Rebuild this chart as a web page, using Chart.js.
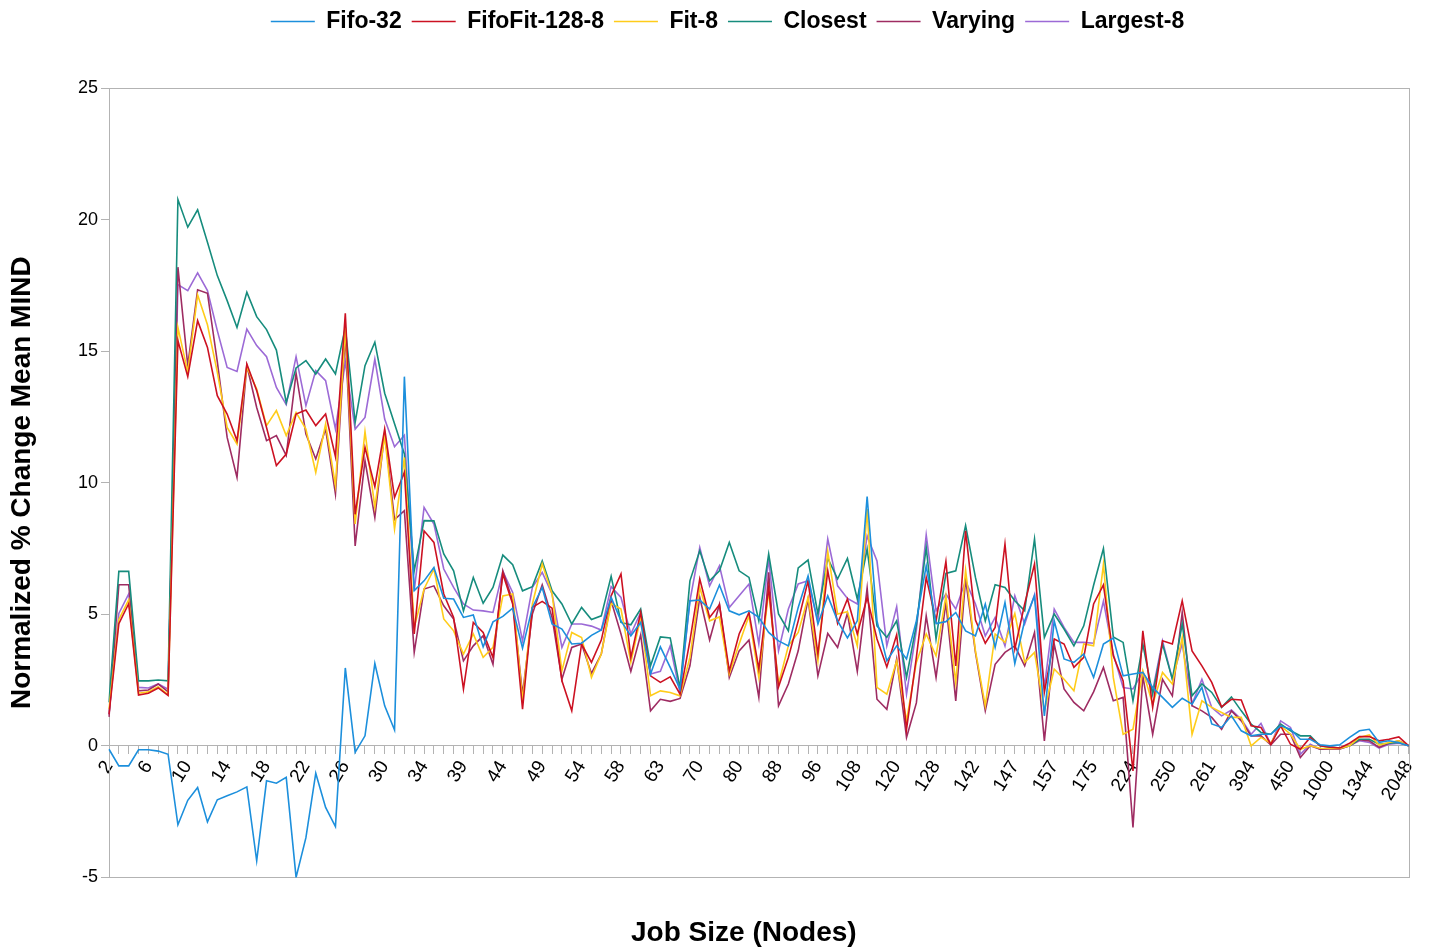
<!DOCTYPE html>
<html>
<head>
<meta charset="utf-8">
<script src="https://cdn.jsdelivr.net/npm/chart.js@4.4.1/dist/chart.umd.min.js"></script>
<style>
html,body{margin:0;padding:0;background:#fff;}
#c{display:block;}
</style>
</head>
<body>
<canvas id="c" width="1431" height="952"></canvas>
<script>
const categories = ["2","3","4","5","6","7","8","9","10","11","12","13","14","15","16","17","18","19","20","21","22","23","24","25","26","27","28","29","30","31","32","33","34","35","36","38","39","40","42","43","44","45","46","48","49","50","51","52","54","55","56","57","58","60","61","62","63","64","66","68","70","72","75","78","80","82","84","86","88","90","92","94","96","100","102","104","108","110","112","116","120","122","124","126","128","132","136","140","142","144","145","146","147","150","152","155","157","160","165","170","175","180","192","200","224","228","232","240","250","252","255","256","261","288","300","384","394","400","420","432","450","512","600","768","1000","1024","1100","1200","1344","1500","1536","1800","2048"];

const fifo32 = [-0.13,-0.76,-0.76,-0.15,-0.15,-0.2,-0.32,-3.0,-2.07,-1.58,-2.89,-2.05,-1.9,-1.75,-1.56,-4.37,-1.33,-1.42,-1.2,-5.0,-3.49,-1.04,-2.34,-3.07,2.96,-0.25,0.38,3.13,1.52,0.6,14.03,5.9,6.27,6.78,5.61,5.58,4.88,4.97,3.76,4.71,4.92,5.23,3.71,5.26,6.02,4.63,4.44,3.87,3.9,4.2,4.4,5.64,4.75,4.18,4.69,2.73,3.76,2.98,2.15,5.51,5.54,5.2,6.11,5.13,4.98,5.13,4.88,4.31,3.99,3.8,5.26,6.46,4.63,5.7,4.75,4.1,4.75,9.47,4.75,3.23,3.8,3.3,4.75,6.84,4.65,4.72,5.07,4.37,4.18,5.39,3.74,5.45,3.13,4.75,5.7,1.14,4.75,3.3,3.17,3.49,2.6,3.87,4.1,2.66,2.73,2.79,2.22,1.84,1.46,1.81,1.58,2.22,0.83,0.7,1.14,0.57,0.38,0.44,0.44,0.76,0.63,0.25,0.25,0.04,0,0.04,0.32,0.57,0.63,0.13,0.19,0.13,0];

const fifoFit128 = [1.2,4.64,5.4,1.93,2.0,2.2,1.92,15.4,14.03,16.16,15.14,13.31,12.61,11.6,14.51,13.5,12.1,10.65,11.09,12.61,12.76,12.17,12.61,10.99,16.44,8.8,11.34,9.85,12.04,9.44,10.4,4.25,8.17,7.73,5.77,4.88,2.16,4.69,4.31,3.36,6.53,5.39,1.39,5.26,5.49,5.23,2.47,1.33,3.87,3.17,4.02,5.7,6.53,3.36,5.07,2.66,2.41,2.62,1.96,3.99,6.34,4.88,5.36,2.85,4.25,5.07,2.92,6.02,2.24,3.36,4.75,6.27,3.49,6.65,4.65,5.58,4.25,5.64,4.06,3.0,4.22,0.63,3.36,6.4,4.75,7.01,3.04,8.17,4.78,3.9,4.5,7.67,3.68,5.39,6.91,2.03,4.06,3.87,2.98,3.36,5.39,6.12,3.42,2.47,-0.95,4.37,1.46,3.99,3.87,5.51,3.61,3.04,2.41,1.48,1.77,1.74,0.76,0.7,0.06,0.76,0.06,-0.13,0.32,0,-0.05,-0.08,0.1,0.35,0.35,0.19,0.25,0.34,0];

const fit8 = [1.4,4.8,5.55,2.0,2.05,2.25,1.95,15.9,14.2,17.14,16.0,14.2,12.1,11.47,14.39,13.56,12.17,12.74,11.79,12.67,12.04,10.39,12.23,9.89,15.9,8.43,11.94,9.06,11.8,8.24,10.96,4.5,5.96,6.72,4.82,4.37,3.49,4.25,3.36,3.74,5.7,5.77,1.71,5.39,6.91,5.77,2.85,4.31,4.12,2.6,3.49,5.41,5.2,3.17,4.88,1.9,2.09,2.03,1.9,3.36,6.02,4.75,4.9,2.73,3.87,4.94,2.6,5.89,2.35,3.8,4.31,5.64,3.23,7.39,5.01,5.1,3.8,9.0,2.22,1.96,3.23,0.95,3.17,4.25,3.42,5.7,2.41,6.68,3.61,1.52,4.25,3.93,5.03,3.17,3.55,1.33,2.92,2.53,2.09,3.87,3.8,6.9,2.6,0.44,0.63,2.85,1.58,2.79,2.35,4.12,0.44,1.71,1.46,1.27,1.08,1.08,0,0.32,0.1,0.76,0.44,-0.13,0,-0.09,-0.1,-0.1,0,0.32,0.42,0.03,0.13,0.19,0];

const closest = [1.65,6.63,6.63,2.47,2.47,2.5,2.47,20.76,19.71,20.37,19.14,17.87,16.92,15.9,17.24,16.31,15.82,15.04,13.05,14.36,14.64,14.13,14.7,14.13,15.9,12.29,14.45,15.34,13.4,12.24,11.09,6.65,8.56,8.55,7.29,6.65,5.13,6.4,5.42,6.02,7.25,6.88,5.89,6.05,7.03,5.89,5.39,4.63,5.26,4.8,4.94,6.44,4.69,4.6,5.2,3.04,4.14,4.1,2.2,6.27,7.41,6.27,6.65,7.73,6.65,6.4,4.75,7.29,5.01,4.37,6.76,7.06,5.01,7.13,6.34,7.12,5.58,7.48,4.56,4.12,4.75,2.6,4.6,7.54,4.06,6.55,6.65,8.37,6.4,4.75,6.12,6.02,5.51,5.13,7.86,4.12,5.01,4.44,3.8,4.56,6.1,7.5,4.14,3.93,1.71,3.87,1.96,3.87,2.53,4.63,1.9,2.35,2.03,1.46,1.86,1.33,0.83,0.51,0.44,0.83,0.57,0.38,0.38,0,-0.05,-0.08,0,0.25,0.25,0.06,0.1,0.13,0];

const varying = [1.1,6.12,6.12,2.09,2.12,2.35,2.05,18.19,14.45,17.33,17.2,14.6,11.72,10.2,14.45,12.86,11.6,11.79,11.03,14.16,11.85,10.9,12.04,9.57,15.6,7.6,10.84,8.68,11.9,8.6,8.94,3.55,5.96,6.08,5.32,4.82,3.23,3.8,4.18,3.1,6.65,5.51,1.96,5.01,6.12,4.88,2.53,3.74,3.87,2.75,3.49,5.51,4.25,2.83,4.22,1.33,1.77,1.69,1.8,3.04,5.64,4.02,5.38,2.6,3.61,4.02,1.84,6.59,1.52,2.35,3.61,5.58,2.66,4.27,3.74,5.04,2.83,6.0,1.77,1.39,3.3,0.32,1.63,4.94,2.6,5.45,1.71,6.34,3.55,1.33,3.1,3.55,3.8,3.04,4.31,0.19,3.87,2.16,1.65,1.33,2.05,2.98,1.71,1.84,-3.1,2.66,0.44,2.53,1.9,5.07,1.52,1.33,1.08,0.63,1.33,0.95,0.38,0.38,0.04,0.44,0.44,-0.44,0,-0.13,-0.12,-0.12,0,0.23,0.19,-0.06,0.1,0.19,0];

const largest8 = [1.2,5.03,5.77,2.22,2.2,2.35,2.15,17.53,17.3,17.97,17.3,15.78,14.38,14.23,15.84,15.21,14.79,13.62,12.97,14.79,12.93,14.26,13.88,12.04,14.58,12.04,12.48,14.7,12.42,11.37,11.8,5.89,9.06,8.43,6.72,6.02,5.39,5.16,5.13,5.07,6.63,5.83,3.99,6.02,6.59,5.77,3.74,4.63,4.63,4.55,4.4,6.05,5.64,4.25,5.07,2.73,2.83,3.8,2.0,5.51,7.54,6.08,6.84,5.26,5.7,6.15,3.87,7.1,3.61,5.2,6.15,6.27,4.75,7.86,6.08,5.6,5.39,7.98,7.03,3.8,5.29,1.96,4.4,8.02,5.13,5.77,5.2,6.27,5.39,4.18,4.88,3.8,5.7,4.63,5.74,2.22,5.2,4.5,3.93,3.93,3.9,5.5,3.49,2.22,2.16,2.79,2.09,3.99,2.53,3.89,1.58,2.53,1.46,1.14,1.36,1.01,0.44,0.85,0.06,0.95,0.7,-0.32,0.06,-0.13,-0.12,-0.12,0,0.19,0.13,-0.09,0.06,0.1,0];

const yTicks = [-5, 0, 5, 10, 15, 20, 25];
const labelEvery = 4;

const seriesNames = ["Fifo-32","FifoFit-128-8","Fit-8","Closest","Varying","Largest-8"];
const seriesData = [fifo32, fifoFit128, fit8, closest, varying, largest8];
const seriesColors = ["#1c8fdc","#cc1122","#ffcc1a","#168c7d","#9e2c62","#9c6ad6"];

const FONT = "'Liberation Sans', Arial, sans-serif";
const GRAY = "#b3b3b3";

const frame = {
  id: 'frame',
  beforeDatasetsDraw(chart) {
    const a = chart.chartArea, ctx = chart.ctx;
    ctx.save();
    ctx.strokeStyle = GRAY;
    ctx.lineWidth = 1;
    ctx.strokeRect(Math.round(a.left) + 0.5, Math.round(a.top) + 0.5, Math.round(a.right - a.left), Math.round(a.bottom - a.top));
    ctx.restore();
  }
};

const layoutTweaks = {
  id: 'layoutTweaks',
  beforeInit(chart) {
    const lg = chart.legend;
    if (!lg) return;
    const orig = lg.fit;
    lg.fit = function () {
      orig.call(this);
      this.height = 88;
    };
  },
  afterLayout(chart) {
    const lg = chart.legend;
    if (lg) { lg.left += 20; lg.right += 20; }
    const x2 = chart.scales.x2;
    if (x2) { x2.left -= 15; x2.right -= 15; }
  }
};

new Chart(document.getElementById('c'), {
  type: 'line',
  data: {
    labels: categories,
    datasets: seriesNames.map((n, i) => ({
      label: n,
      data: seriesData[i],
      borderColor: seriesColors[i],
      backgroundColor: seriesColors[i],
      borderWidth: 1.6,
      pointRadius: 0,
      pointHoverRadius: 0,
      tension: 0,
      fill: false,
      xAxisID: 'x',
      yAxisID: 'y'
    }))
  },
  options: {
    responsive: false,
    animation: false,
    devicePixelRatio: 1,
    layout: { padding: { left: 5, right: 21, top: 0, bottom: 0 } },
    plugins: {
      tooltip: { enabled: false },
      legend: {
        position: 'top',
        labels: {
          usePointStyle: true,
          pointStyle: 'line',
          pointStyleWidth: 44,
          boxHeight: 23,
          padding: 10,
          color: '#000',
          font: { family: FONT, size: 23, weight: 'bold' }
        }
      },
      title: { display: false }
    },
    scales: {
      x: {
        type: 'category',
        position: { y: 0 },
        offset: false,
        border: { display: true, color: GRAY, width: 1 },
        grid: { display: true, drawOnChartArea: false, drawTicks: true, tickLength: 8, color: GRAY },
        ticks: {
          autoSkip: false,
          minRotation: 58,
          maxRotation: 58,
          padding: 3,
          color: '#000',
          font: { family: FONT, size: 19 },
          callback: function (val, index) {
            return index % labelEvery === 0 ? categories[index] : '';
          }
        }
      },
      x2: {
        type: 'category',
        position: 'bottom',
        display: true,
        offset: false,
        border: { display: false },
        grid: { display: false, drawTicks: false, drawOnChartArea: false },
        ticks: { display: false },
        title: {
          display: true,
          text: 'Job Size (Nodes)',
          color: '#000',
          font: { family: FONT, size: 28, weight: 'bold' },
          padding: { top: 39, bottom: 2 }
        }
      },
      y: {
        min: -5,
        max: 25,
        position: 'left',
        afterFit(scale) { scale.width = 104; },
        afterBuildTicks(scale) { scale.ticks = yTicks.map(v => ({ value: v })); },
        border: { display: true, color: GRAY, width: 1 },
        grid: { display: true, drawOnChartArea: false, drawTicks: true, tickLength: 8, color: GRAY },
        ticks: {
          padding: 3,
          color: '#000',
          font: { family: FONT, size: 18 }
        },
        title: {
          display: true,
          text: 'Normalized % Change Mean MIND',
          color: '#000',
          font: { family: FONT, size: 28, weight: 'bold' },
          padding: 0
        }
      }
    }
  },
  plugins: [layoutTweaks, frame]
});
</script>
</body>
</html>
